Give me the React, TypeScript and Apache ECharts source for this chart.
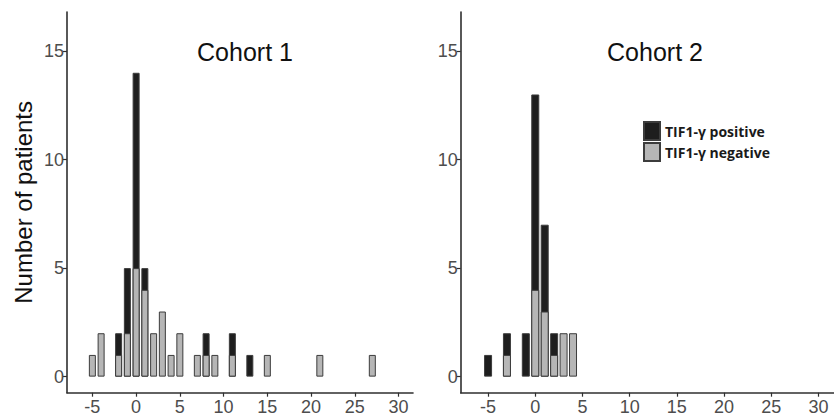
import React, { useEffect, useRef } from "react";
import * as echarts from "echarts";

// Change-score bins (x), counts per bin
const cohort1Bins = [-5, -4, -2, -1, 0, 1, 2, 3, 4, 5, 7, 8, 9, 11, 13, 15, 21, 27];
const cohort1Positive = [0, 0, 1, 3, 9, 1, 0, 0, 0, 0, 0, 1, 0, 1, 1, 0, 0, 0];
const cohort1Negative = [1, 2, 1, 2, 5, 4, 2, 3, 1, 2, 1, 1, 1, 1, 0, 1, 1, 1];

const cohort2Bins = [-5, -3, -1, 0, 1, 2, 3, 4];
const cohort2Positive = [1, 1, 2, 9, 4, 1, 0, 0];
const cohort2Negative = [0, 1, 0, 4, 3, 1, 2, 2];

const xTicks = [-5, 0, 5, 10, 15, 20, 25, 30];
const yTicks = [0, 5, 10, 15];
const panelTitles = ["Cohort 1", "Cohort 2"];
const seriesNames = ["TIF1-γ positive", "TIF1-γ negative"];
const yAxisTitle = "Number of patients";

const POS_COLOR = "#1e1e1e";
const NEG_COLOR = "#b6b6b6";
const BORDER = "#3c3c3c";
const AXIS = "#2f2f2f";
const LABEL = "#4d4d4d";
const FONT = "Liberation Sans, Arial, sans-serif";

function pairs(bins: number[], vals: number[]) {
  return bins.map((b, i) => [b, vals[i] > 0 ? vals[i] : null]);
}
// stacked top of the bar = negative + positive (positive sits on top of negative)
function totals(pos: number[], neg: number[]) {
  return pos.map((p, i) => (p > 0 ? p + neg[i] : 0));
}

export default function App() {
  const ref = useRef<HTMLDivElement>(null);
  useEffect(() => {
    if (!ref.current) return;
    const chart = echarts.init(ref.current, null, { renderer: "svg" });
    const xAxisBase = (gridIndex: number) => ({
      type: "value",
      gridIndex,
      min: -7.9,
      max: 31.65,
      splitLine: { show: false },
      axisLine: { onZero: false, lineStyle: { color: AXIS, width: 1.6 } },
      axisTick: { show: true, length: 4, customValues: xTicks, lineStyle: { color: AXIS, width: 1.2 } },
      axisLabel: { customValues: xTicks, color: LABEL, fontSize: 18, fontFamily: FONT, margin: 5 },
    });
    const yAxisBase = (gridIndex: number) => ({
      type: "value",
      gridIndex,
      min: -0.74,
      max: 16.8,
      splitLine: { show: false },
      axisLine: { show: true, onZero: false, lineStyle: { color: AXIS, width: 1.6 } },
      axisTick: { show: true, length: 4, customValues: yTicks, lineStyle: { color: AXIS, width: 1.2 } },
      axisLabel: { customValues: yTicks, color: LABEL, fontSize: 18, fontFamily: FONT, margin: 3 },
    });
    const barSeries = (
      name: string,
      idx: number,
      bins: number[],
      vals: number[],
      color: string,
      width: number
    ) => ({
      type: "bar",
      name,
      xAxisIndex: idx,
      yAxisIndex: idx,
      barWidth: width,
      barGap: "-100%",
      data: pairs(bins, vals),
      itemStyle: { color, borderColor: BORDER, borderWidth: 1 },
    });
    chart.setOption({
      animation: false,
      backgroundColor: "#ffffff",
      title: [
        {
          text: panelTitles[0],
          left: 240,
          top: 34,
          textAlign: "center",
          textStyle: { fontSize: 25, fontWeight: "normal", color: "#111", fontFamily: FONT },
        },
        {
          text: panelTitles[1],
          left: 650,
          top: 34,
          textAlign: "center",
          textStyle: { fontSize: 25, fontWeight: "normal", color: "#111", fontFamily: FONT },
        },
      ],
      legend: {
        data: seriesNames,
        orient: "vertical",
        left: 638,
        top: 116,
        itemWidth: 16,
        itemHeight: 18,
        itemGap: 1,
        icon: "rect",
        textStyle: { fontSize: 14, fontWeight: "bold", color: "#1a1a1a", fontFamily: "Open Sans, sans-serif" },
      },
      grid: [
        { left: 67, top: 12, width: 346, height: 380.7 },
        { left: 460.7, top: 12, width: 373.3, height: 380.7 },
      ],
      xAxis: [xAxisBase(0), xAxisBase(1)],
      yAxis: [
        {
          ...yAxisBase(0),
          name: yAxisTitle,
          nameLocation: "middle",
          nameGap: 32,
          nameRotate: 90,
          nameTextStyle: { fontSize: 24, color: "#111", fontFamily: FONT },
        },
        yAxisBase(1),
      ],
      series: [
        barSeries(seriesNames[0], 0, cohort1Bins, totals(cohort1Positive, cohort1Negative), POS_COLOR, 7),
        barSeries(seriesNames[1], 0, cohort1Bins, cohort1Negative, NEG_COLOR, 7),
        barSeries(seriesNames[0], 1, cohort2Bins, totals(cohort2Positive, cohort2Negative), POS_COLOR, 8),
        barSeries(seriesNames[1], 1, cohort2Bins, cohort2Negative, NEG_COLOR, 8),
      ],
    });
    return () => chart.dispose();
  }, []);
  return (
    <div
      ref={ref}
      style={{ position: "fixed", left: 0, top: 0, width: 834, height: 418, background: "#fff" }}
    />
  );
}
